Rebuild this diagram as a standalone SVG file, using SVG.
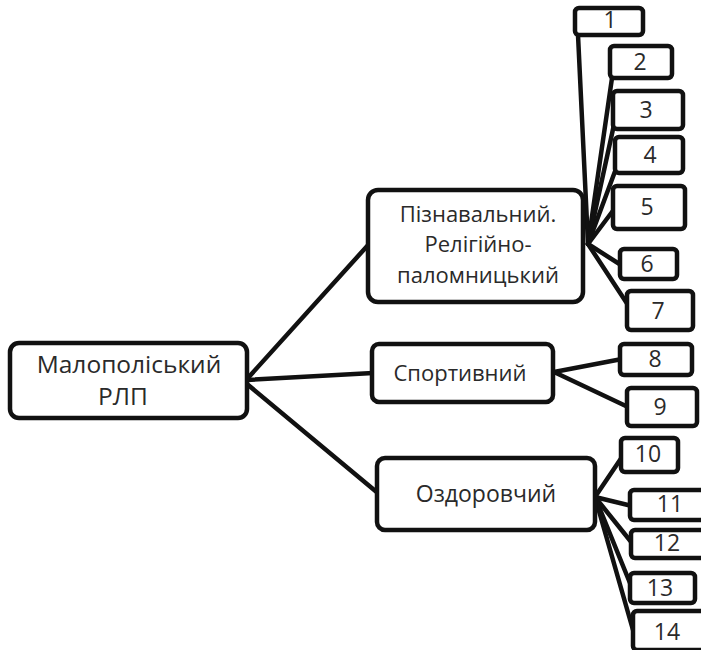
<svg xmlns="http://www.w3.org/2000/svg" width="701" height="650" viewBox="0 0 701 650">
<style>
.n{fill:#fff;stroke:#111;stroke-width:4.5}
.b{fill:#fff;stroke:#111;stroke-width:4.5}
.t{font-family:"Open Sans","Liberation Sans",sans-serif;fill:#2a2a2a;text-anchor:middle}
.big{font-size:24.5px}
.m22{font-size:22px}
.m23{font-size:23px}
.num{font-size:23px}
.c line{stroke:#111;stroke-width:4.5;stroke-linecap:round}
</style>
<rect width="701" height="650" fill="#fff"/>
<g class="c" id="connectors">
<line x1="247" y1="379" x2="369" y2="244"/>
<line x1="247" y1="380" x2="373" y2="373"/>
<line x1="247" y1="384" x2="379" y2="494"/>
<line x1="588" y1="244" x2="578" y2="35"/>
<line x1="588" y1="244" x2="612" y2="78"/>
<line x1="588" y1="244" x2="615" y2="120"/>
<line x1="588" y1="244" x2="617" y2="166"/>
<line x1="588" y1="244" x2="615" y2="208"/>
<line x1="588" y1="244" x2="621" y2="265"/>
<line x1="588" y1="244" x2="628" y2="305"/>
<line x1="554" y1="372" x2="622" y2="359"/>
<line x1="554" y1="372" x2="628" y2="407"/>
<line x1="595" y1="497" x2="622" y2="457"/>
<line x1="595" y1="497" x2="632" y2="506"/>
<line x1="595" y1="497" x2="632" y2="543"/>
<line x1="595" y1="497" x2="632" y2="588"/>
<line x1="595" y1="497" x2="633" y2="630"/>
</g>
<g id="main"><rect class="n" x="10" y="343" width="237" height="75" rx="9"/>
<text class="t big" x="129" y="373">Малополіський</text>
<text class="t big" x="123" y="405">РЛП</text></g>
<g id="n-piznav"><rect class="n" x="368" y="190" width="215" height="112" rx="10"/>
<text class="t m22" x="478" y="222">Пізнавальний.</text>
<text class="t m22" x="478" y="252">Релігійно-</text>
<text class="t m22" x="478" y="283">паломницький</text></g>
<g id="n-sport"><rect class="n" x="372" y="344" width="181" height="58" rx="7"/>
<text class="t m22" x="460" y="381">Спортивний</text></g>
<g id="n-ozd"><rect class="n" x="377" y="458" width="218" height="72" rx="8"/>
<text class="t m23" x="486" y="502">Оздоровчий</text></g>
<g id="b1"><rect class="b" x="575" y="8" width="68" height="27" rx="4"/><text class="t num" x="610" y="28">1</text></g>
<g id="b2"><rect class="b" x="610" y="46" width="62" height="32" rx="4"/><text class="t num" x="640" y="70">2</text></g>
<g id="b3"><rect class="b" x="613" y="91" width="70" height="38" rx="4"/><text class="t num" x="646" y="118">3</text></g>
<g id="b4"><rect class="b" x="615" y="137" width="68" height="36" rx="4"/><text class="t num" x="650" y="163">4</text></g>
<g id="b5"><rect class="b" x="613" y="186" width="72" height="43" rx="4"/><text class="t num" x="647" y="215">5</text></g>
<g id="b6"><rect class="b" x="620" y="249" width="57" height="30" rx="4"/><text class="t num" x="647" y="272">6</text></g>
<g id="b7"><rect class="b" x="627" y="291" width="66" height="39" rx="4"/><text class="t num" x="658" y="319">7</text></g>
<g id="b8"><rect class="b" x="620" y="344" width="72" height="31" rx="4"/><text class="t num" x="655" y="367">8</text></g>
<g id="b9"><rect class="b" x="627" y="388" width="70" height="38" rx="4"/><text class="t num" x="660" y="415">9</text></g>
<g id="b10"><rect class="b" x="621" y="438" width="57" height="34" rx="4"/><text class="t num" x="648" y="462">10</text></g>
<g id="b11"><rect class="b" x="630" y="490" width="80" height="30" rx="4"/><text class="t num" x="670" y="512">11</text></g>
<g id="b12"><rect class="b" x="631" y="530" width="80" height="28" rx="4"/><text class="t num" x="667" y="551">12</text></g>
<g id="b13"><rect class="b" x="630" y="573" width="65" height="30" rx="4"/><text class="t num" x="660" y="596">13</text></g>
<g id="b14"><rect class="b" x="633" y="611" width="80" height="39" rx="4"/><text class="t num" x="667" y="640">14</text></g>
</svg>
